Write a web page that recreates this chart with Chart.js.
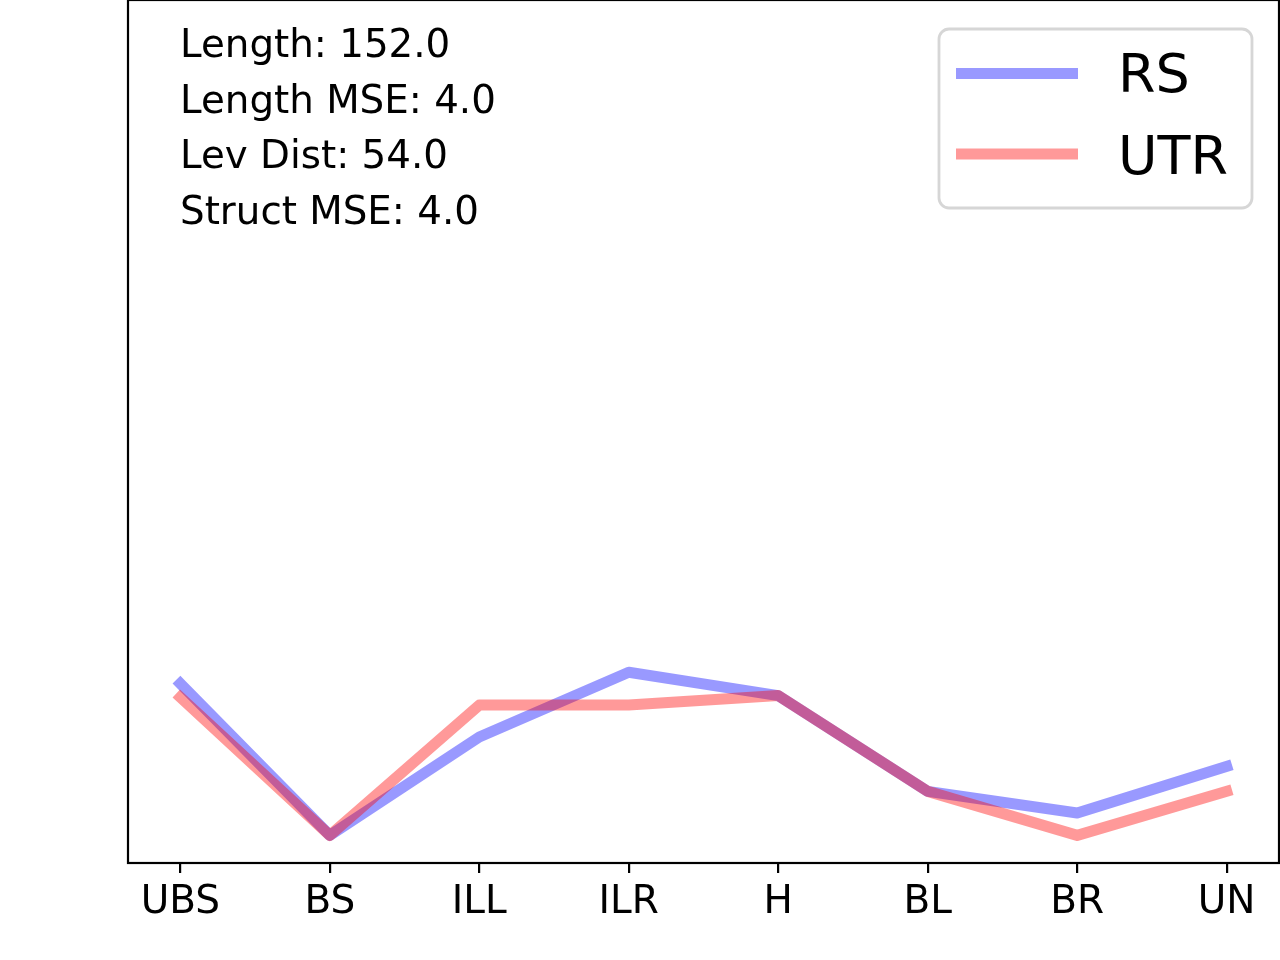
<!DOCTYPE html>
<html>
<head>
<meta charset="utf-8">
<script src="https://cdn.jsdelivr.net/npm/chart.js@4"></script>
<style>
  html, body { margin: 0; padding: 0; background: #fff; }
  #wrap { width: 1280px; height: 960px; }
</style>
</head>
<body>
<div id="wrap"><canvas id="c" width="1280" height="960"></canvas></div>
<script>
const categories = ['UBS', 'BS', 'ILL', 'ILR', 'H', 'BL', 'BR', 'UN'];
const rsValues  = [20.8, 3.2, 14.6, 22.1, 19.4, 8.3, 5.8, 11.2];
const utrValues = [19.2, 3.2, 18.3, 18.3, 19.4, 8.3, 3.2, 8.3];
const seriesNames = ['RS', 'UTR'];
const infoLines = ['Length: 152.0', 'Length MSE: 4.0', 'Lev Dist: 54.0', 'Struct MSE: 4.0'];
const yMin = 0, yMax = 100;

const FONT = '"DejaVu Sans", "Liberation Sans", sans-serif';
const toPoints = vals => vals.map((v, i) => ({ x: i, y: v }));

const framePlugin = {
  id: 'frame',
  afterDraw(chart) {
    const { ctx, chartArea: a } = chart;
    ctx.save();
    ctx.strokeStyle = '#000';
    ctx.lineWidth = 2.2;
    ctx.strokeRect(a.left, a.top, a.right - a.left, a.bottom - a.top);
    // info text
    ctx.fillStyle = '#000';
    ctx.font = '38.8px ' + FONT;
    ctx.textAlign = 'left';
    ctx.textBaseline = 'alphabetic';
    infoLines.forEach((t, i) => ctx.fillText(t, 180, 57 + i * 55.5));
    // legend
    const x0 = 939, y0 = 29, w = 313, h = 179, r = 10;
    ctx.beginPath();
    ctx.moveTo(x0 + r, y0);
    ctx.arcTo(x0 + w, y0, x0 + w, y0 + h, r);
    ctx.arcTo(x0 + w, y0 + h, x0, y0 + h, r);
    ctx.arcTo(x0, y0 + h, x0, y0, r);
    ctx.arcTo(x0, y0, x0 + w, y0, r);
    ctx.closePath();
    ctx.fillStyle = 'rgba(255,255,255,0.8)';
    ctx.fill();
    ctx.strokeStyle = '#d6d6d6';
    ctx.lineWidth = 2.8;
    ctx.stroke();
    ctx.font = '54px ' + FONT;
    chart.data.datasets.forEach((ds, i) => {
      const cy = 73.5 + i * 80.5;
      ctx.strokeStyle = ds.borderColor;
      ctx.lineWidth = 11;
      ctx.lineCap = 'butt';
      ctx.beginPath();
      ctx.moveTo(956, cy);
      ctx.lineTo(1078, cy);
      ctx.stroke();
      ctx.fillStyle = '#000';
      ctx.fillText(ds.label, 1118, 92 + i * 82);
    });
    ctx.restore();
  }
};

new Chart(document.getElementById('c'), {
  type: 'line',
  data: {
    datasets: [
      { label: seriesNames[0], data: toPoints(rsValues), borderColor: 'rgba(0,0,255,0.4)',
        borderWidth: 11, pointRadius: 0, tension: 0, order: 1,
        borderCapStyle: 'square', borderJoinStyle: 'round' },
      { label: seriesNames[1], data: toPoints(utrValues), borderColor: 'rgba(255,0,0,0.4)',
        borderWidth: 11, pointRadius: 0, tension: 0, order: 0,
        borderCapStyle: 'square', borderJoinStyle: 'round' }
    ]
  },
  options: {
    responsive: false,
    animation: false,
    devicePixelRatio: 1,
    layout: { padding: { left: 128, right: 1, top: 0, bottom: 0 } },
    plugins: { legend: { display: false }, tooltip: { enabled: false } },
    scales: {
      x: {
        type: 'linear',
        min: -0.35, max: 7.35,
        afterBuildTicks: s => { s.ticks = categories.map((_, i) => ({ value: i })); },
        afterFit: s => { s.height = 97; },
        ticks: {
          autoSkip: false, maxRotation: 0, padding: 6, color: '#000',
          font: { family: FONT, size: 39 },
          callback: v => categories[v]
        },
        grid: { drawOnChartArea: false, tickLength: 10, color: '#000', lineWidth: 2.2 },
        border: { display: false }
      },
      y: {
        min: yMin, max: yMax,
        afterFit: s => { s.width = 0; },
        ticks: { display: false },
        grid: { display: false },
        border: { display: false }
      }
    }
  },
  plugins: [framePlugin]
});
</script>
</body>
</html>
